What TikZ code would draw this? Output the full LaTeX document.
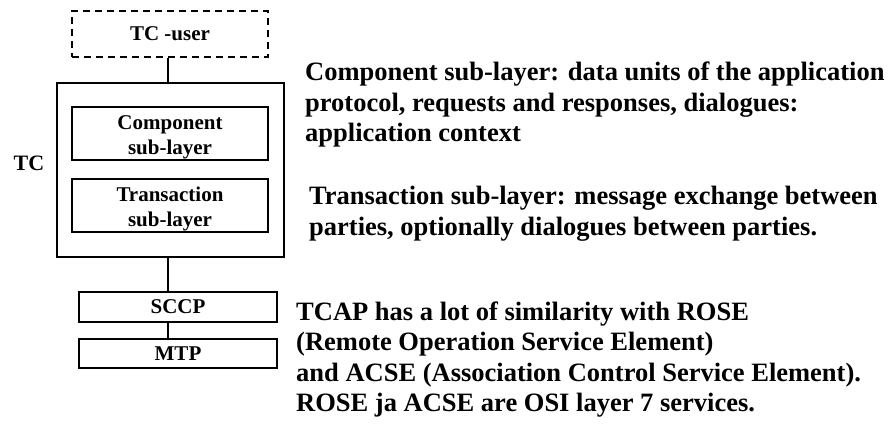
\documentclass[tikz,border=0pt]{standalone}
\usepackage{fontspec}
\setmainfont{Liberation Serif}
\begin{document}
\begin{tikzpicture}[x=1pt,y=-1pt,
  box/.style={draw,line width=1.5pt,inner sep=0pt,align=center,font=\bfseries\fontsize{21}{25}\selectfont},
  twoline/.style={text height=41pt,text depth=0pt},
  conn/.style={line width=1.5pt},
  note/.style={anchor=base west,inner sep=0pt,align=left,font=\bfseries\fontsize{26.5}{30.5}\selectfont}]
\useasboundingbox (0,0) rectangle (891,423);
\node[box,dashed,dash pattern=on 7pt off 5pt,minimum width=196pt,minimum height=46pt] (user) at (170,34) {TC -user};
\node[box,minimum width=227pt,minimum height=174pt] (tc) at (170.5,170) {};
\node[box,twoline,minimum width=196pt,minimum height=53pt] (comp) at (170,133.5) {Component\\sub-layer};
\node[box,twoline,minimum width=196pt,minimum height=53pt] (trans) at (170,205.5) {Transaction\\sub-layer};
\node[anchor=center,inner sep=0pt,font=\bfseries\fontsize{22}{26}\selectfont] (tclabel) at (29,163) {TC};
\node[box,minimum width=198pt,minimum height=30pt] (sccp) at (178,307) {SCCP};
\node[box,minimum width=198pt,minimum height=29pt] (mtp) at (178,353.5) {MTP};
\draw[conn] (user.south -| 168,0) -- (tc.north -| 168,0);
\draw[conn] (tc.south -| 168,0) -- (sccp.north -| 168,0);
\draw[conn] (sccp.south -| 168,0) -- (mtp.north -| 168,0);
\node[note] (n1) at (305,141.7) {Component sub-layer: data units of the application\\protocol, requests and responses, dialogues:\\application context};
\node[note] (n2) at (309,235) {Transaction sub-layer: message exchange between\\parties, optionally dialogues between parties.};
\node[note] (n3) at (296,411.5) {TCAP has a lot of similarity with ROSE\\(Remote Operation Service Element)\\and ACSE (Association Control Service Element).\\ROSE ja ACSE are OSI layer 7 services.};
\end{tikzpicture}
\end{document}
